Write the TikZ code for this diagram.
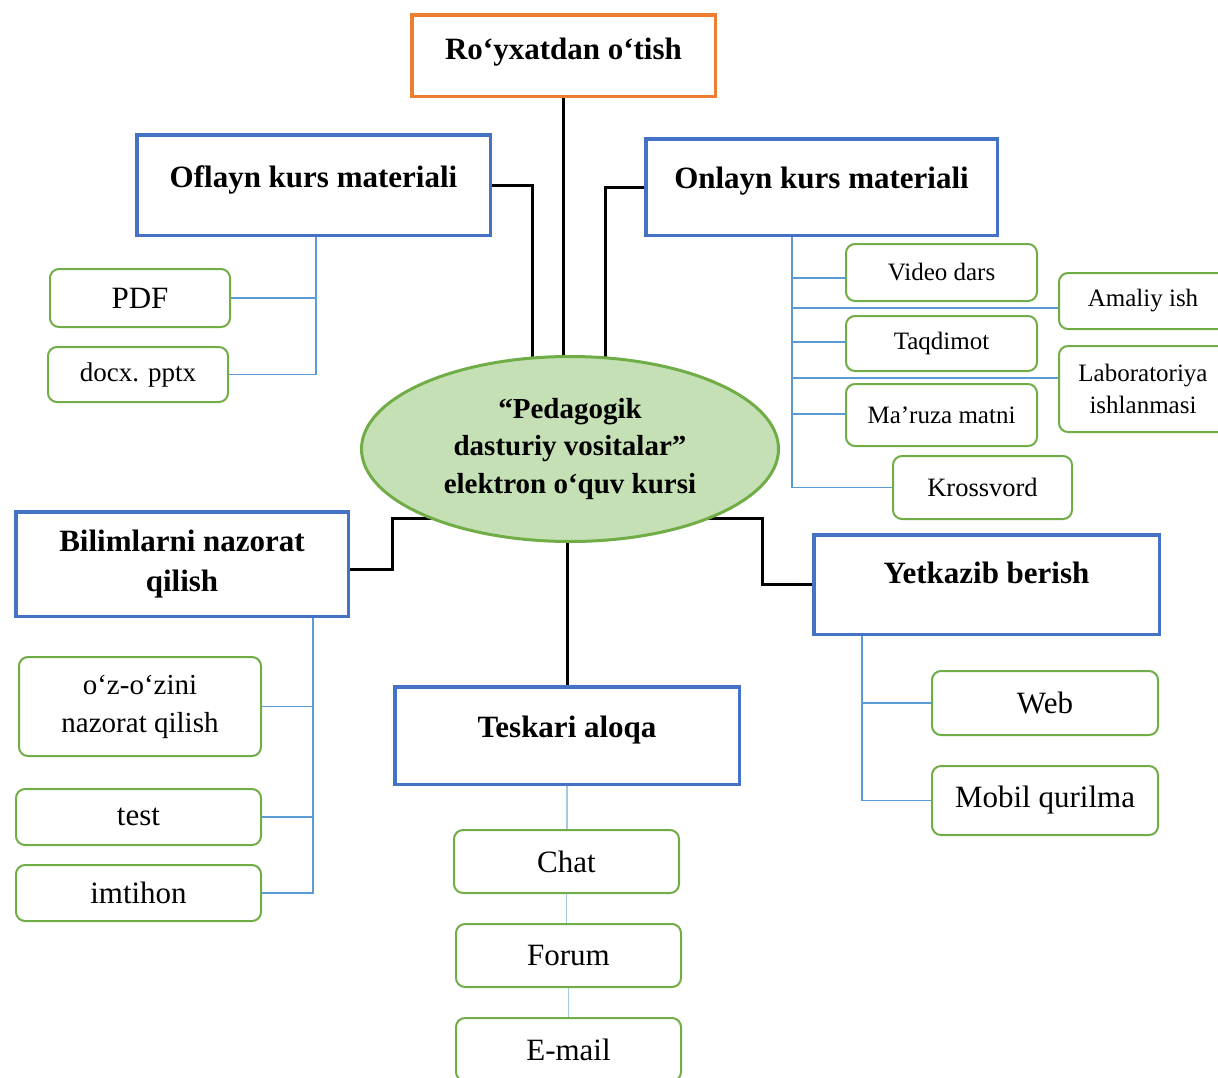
\documentclass[tikz,border=0pt]{standalone}
\usepackage{fontspec}
\setmainfont{Liberation Serif}
\usetikzlibrary{shapes.geometric,backgrounds}
\definecolor{boxblue}{HTML}{4472C4}
\definecolor{boxorange}{HTML}{ED7D31}
\definecolor{leafgreen}{HTML}{70AD47}
\definecolor{rootfill}{HTML}{C5E0B4}
\definecolor{twigblue}{HTML}{5B9BD5}
\colorlet{twiglight}{twigblue!55}

\begin{document}
\begin{tikzpicture}[x=1pt, y=-1pt,
	    head/.style={draw=boxblue, line width=3.5pt, inner sep=0pt, anchor=north, align=center,
	        font=\bfseries\fontsize{31}{40}\selectfont},
	    leaf/.style={draw=leafgreen, line width=2pt, rounded corners=9pt, inner sep=0pt, align=center,
	        font=\fontsize{31}{38}\selectfont},
	    small leaf/.style={leaf, font=\fontsize{25}{32}\selectfont},
	    link/.style={line width=3pt, black},
	    twig/.style={line width=1.8pt, twigblue}]

		\useasboundingbox (0,0) rectangle (1218,1077);

		\node[ellipse, draw=leafgreen, fill=rootfill, line width=3pt, minimum width=417pt, minimum height=185pt,
		    inner sep=0pt, align=center, font=\bfseries\fontsize{29}{37.5}\selectfont]
		    (root) at (570,449) {“Pedagogik\\dasturiy vositalar”\\elektron o‘quv kursi}; % root node

		% main boxes
		\node[head, draw=boxorange, minimum width=303.5pt, text height=44.25pt, text depth=37.25pt] (reg) at (563.5,13) {Ro‘yxatdan o‘tish};
		\node[head, minimum width=353.5pt, text height=52.25pt, text depth=48.25pt] (oflayn) at (313.5,133) {Oflayn kurs materiali};
		\node[head, minimum width=351.5pt, text height=49.25pt, text depth=47.25pt] (onlayn) at (821.5,137) {Onlayn kurs materiali};
		\node[head, anchor=center, minimum width=332.5pt, minimum height=104.5pt] (bil) at (182,564) {Bilimlarni nazorat\\qilish};
		\node[head, minimum width=345.5pt, text height=48.25pt, text depth=51.25pt] (yet) at (986.5,533) {Yetkazib berish};
		\node[head, minimum width=344.5pt, text height=50.25pt, text depth=47.25pt] (tesk) at (567,685) {Teskari aloqa};

		% offline materials
		\node[leaf, minimum width=180pt, minimum height=58pt] (pdf) at (140,298) {PDF};
		\node[leaf, font=\fontsize{27}{32}\selectfont, minimum width=180pt, minimum height=55pt] (docx) at (138,374.5) {docx. pptx};

		% online materials
		\node[small leaf, minimum width=191pt, minimum height=57pt] (video) at (941.5,272.5) {Video dars};
		\node[small leaf, minimum width=168pt, minimum height=56pt] (amaliy) at (1143,301) {Amaliy ish};
		\node[small leaf, minimum width=191pt, minimum height=55pt] (taqdimot) at (941.5,343.5) {Taqdimot};
		\node[small leaf, minimum width=168pt, minimum height=86pt] (lab) at (1143,389) {Laboratoriya\\ishlanmasi};
		\node[small leaf, minimum width=191pt, minimum height=62pt] (maruza) at (941.5,415) {Ma’ruza matni};
		\node[leaf, font=\fontsize{26.5}{32}\selectfont, minimum width=179pt, minimum height=63pt] (kross) at (982.5,487.5) {Krossvord};

		% knowledge control
		\node[leaf, font=\fontsize{29}{38}\selectfont, minimum width=242pt, minimum height=99pt] (ozozini) at (140,706.5) {o‘z-o‘zini\\nazorat qilish};
		\node[leaf, minimum width=245pt, minimum height=56pt] (test) at (138.5,817) {test};
		\node[leaf, minimum width=245pt, minimum height=56pt] (imtihon) at (138.5,893) {imtihon};

		% delivery
		\node[leaf, minimum width=226pt, minimum height=64pt] (web) at (1045,703) {Web};
		\node[leaf, minimum width=226pt, minimum height=69pt] (mobil) at (1045,800.5) {Mobil qurilma};

		% feedback
		\node[leaf, minimum width=225pt, minimum height=63pt] (chat) at (566.5,861.5) {Chat};
		\node[leaf, minimum width=225pt, minimum height=63pt] (forum) at (568.5,955.5) {Forum};
		\node[leaf, minimum width=225pt, minimum height=63pt] (email) at (568.5,1049.5) {E-mail};

		% black links, hidden under the ellipse
		\begin{scope}[on background layer]
			\draw[link] (reg.south) -- (reg.south |- root.center);
			\draw[link] (oflayn.east) -| ([xshift=-38pt]root.center);
			\draw[link] (onlayn.west) -| ([xshift=35pt]root.center);
			\coordinate (bl) at (392,518);
			\draw[link] (root.center |- bl) -- (bl) |- ([yshift=-5pt]bil.east);
			\coordinate (br) at (762,518);
			\draw[link] (root.center |- br) -- (br) |- (yet.west);
			\draw[link] (tesk.north |- root.center) -- (tesk.north);
		\end{scope}

		% blue twigs
		\coordinate (t-ofl) at ([xshift=2.5pt]oflayn.south);
		\foreach \n in {pdf, docx} \draw[twig] (\n.east) -| (t-ofl);
		\coordinate (t-onl) at ([xshift=-29.5pt]onlayn.south);
		\draw[twig] (kross.west) -| (t-onl);
		\foreach \n/\s in {video/-5.5, amaliy/-7, taqdimot/1.5, lab/11, maruza/1}
			\draw[twig] ([yshift=\s pt]\n.west) -| (t-onl);
		\coordinate (t-bil) at ([xshift=131pt]bil.south);
		\foreach \n in {ozozini, test, imtihon} \draw[twig] (\n.east) -| (t-bil);
		\coordinate (t-yet) at ([xshift=-124.5pt]yet.south);
		\foreach \n in {web, mobil} \draw[twig] (\n.west) -| (t-yet);
		\draw[twig, twiglight] (tesk.south) -- (tesk.south |- chat.north)
		    (chat.south) -- (chat.south |- forum.north)
		    (forum.south) -- (forum.south |- email.north); % end of feedback

\end{tikzpicture}
\end{document}
